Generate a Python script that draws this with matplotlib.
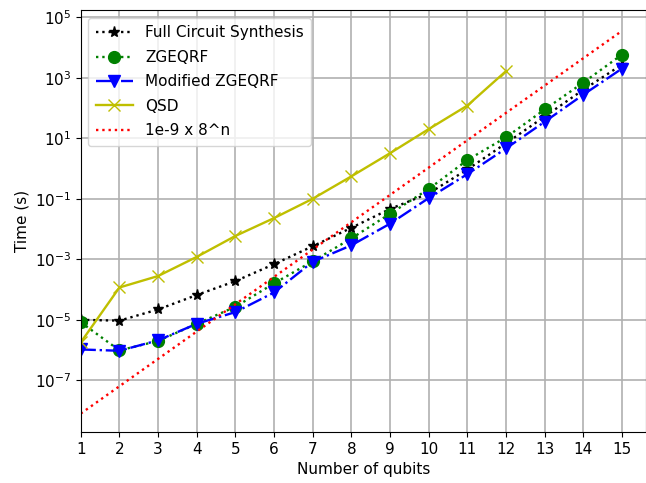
import matplotlib
matplotlib.use("Agg")
import matplotlib.pyplot as plt

# number of qubits
qubits = list(range(1, 16))

# timings (s)
full_synth = [1.0e-5, 9.4e-6, 2.2e-5, 6.6e-5, 1.9e-4, 6.9e-4, 2.7e-3, 1.1e-2,
              4.6e-2, 0.15, 0.93, 6.8, 52, 400, 2700]
zgeqrf = [8.3e-6, 9.8e-7, 2.0e-6, 7.4e-6, 2.7e-5, 1.6e-4, 8.6e-4, 4.9e-3,
          3.2e-2, 0.21, 1.9, 10.7, 89, 690, 5800]
mod_zgeqrf = [1.05e-6, 9.5e-7, 2.1e-6, 7.4e-6, 1.8e-5, 8.0e-5, 8.3e-4, 2.9e-3,
              1.5e-2, 0.105, 0.65, 4.6, 35, 275, 2000]
qsd_qubits = list(range(1, 13))
qsd = [1.8e-6, 1.17e-4, 2.8e-4, 1.2e-3, 5.9e-3, 2.3e-2, 0.1, 0.55,
       3.2, 20, 120, 1650]
# reference curve 1e-9 x 8^n
ref = [8e-9, 6.4e-8, 5.12e-7, 4.1e-6, 3.28e-5, 2.62e-4, 2.1e-3, 1.68e-2,
       0.134, 1.07, 8.59, 68.7, 550, 4400, 35200]

fig = plt.figure(figsize=(6.46, 4.83), dpi=100)
ax = fig.add_axes([0.125, 0.106, 0.875, 0.873])

lw = 1.7
ax.plot(qubits, full_synth, 'k:', lw=lw, marker='*', markersize=8, label='Full Circuit Synthesis')
ax.plot(qubits, zgeqrf, 'g:', lw=lw, marker='o', markersize=8.5, label='ZGEQRF')
ax.plot(qubits, mod_zgeqrf, 'b-.', lw=lw, marker='v', markersize=8.5, label='Modified ZGEQRF')
ax.plot(qsd_qubits, qsd, 'y-', lw=lw, marker='x', markersize=8, label='QSD')
ax.plot(qubits, ref, 'r:', lw=lw, label='1e-9 x 8^n')

ax.set_yscale('log')
ax.set_xlim(1, 15.62)
ax.set_ylim(2e-9, 1.7e5)
ax.set_xticks(qubits)
ax.set_yticks([1e-7, 1e-5, 1e-3, 1e-1, 1e1, 1e3, 1e5])
ax.minorticks_off()
ax.grid(True, color='#b0b0b0', linewidth=1.2)
ax.tick_params(labelsize=11)
ax.set_xlabel('Number of qubits', fontsize=11)
ax.set_ylabel('Time (s)', fontsize=11)
ax.legend(loc='upper left', fontsize=11, handlelength=2.4, labelspacing=0.62,
          borderpad=0.5)

fig.savefig('out.png', dpi=100)
